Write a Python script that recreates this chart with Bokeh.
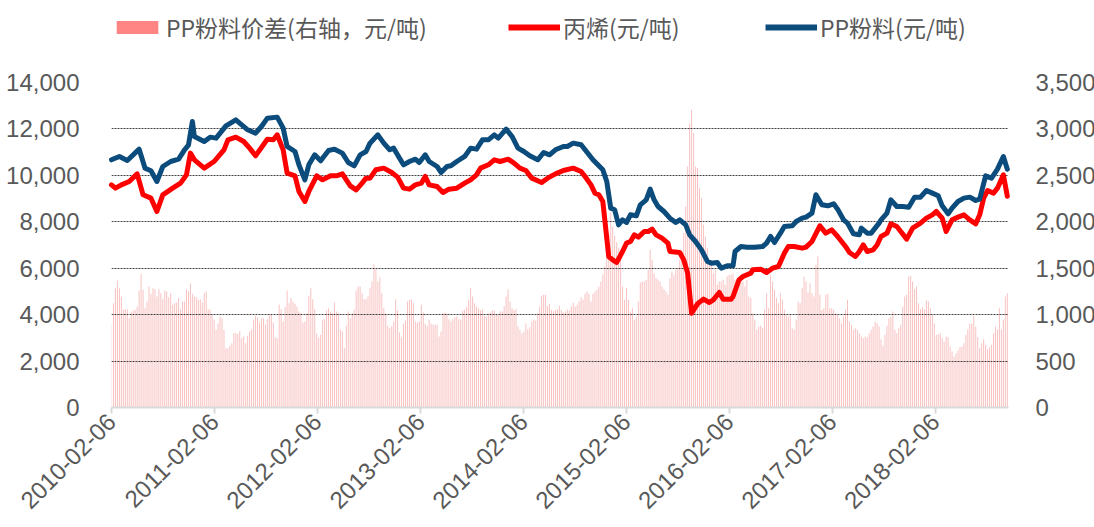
import math
import pandas as pd
from bokeh.plotting import figure
from bokeh.layouts import column
from bokeh.models import (Range1d, LinearAxis, FixedTicker, NumeralTickFormatter,
                          DatetimeTickFormatter, Legend, LegendItem, ColumnDataSource)
from bokeh.embed import file_html
from bokeh.resources import INLINE

# ---------------- data ----------------
start_date = "2010-02-06"
tick_labels = ["2010-02-06", "2011-02-06", "2012-02-06", "2013-02-06", "2014-02-06",
               "2015-02-06", "2016-02-06", "2017-02-06", "2018-02-06"]

series_names = ["PP粉料价差(右轴，元/吨)", "丙烯(元/吨)", "PP粉料(元/吨)"]

# weekly PP powder spread (right axis), one value per week from start_date
spread = [
    890, 1124, 1285, 1368, 1285, 1195, 1052, 1059, 1059, 962,
    1034, 1045, 1052, 1088, 1260, 1440, 1267, 1070, 1142, 1303,
    1224, 1285, 1274, 1195, 1274, 1231, 1167, 1260, 1249, 1188,
    1231, 1106, 1124, 1131, 1178, 1059, 1142, 1142, 1274, 1249,
    1339, 1224, 1195, 1188, 1160, 1167, 1131, 1231, 1249, 1059,
    1052, 998, 944, 836, 908, 980, 962, 836, 639, 639,
    664, 693, 800, 800,
    793, 818, 747, 765, 693, 772, 818, 844, 944, 987,
    973, 915, 962, 962, 890, 951, 998, 998, 915, 757,
    747, 1106, 1059, 926, 1081, 1260, 1124, 1178, 1142, 1116,
    1088, 1034, 1016, 915, 926, 1016, 1203, 1285, 1167, 1059,
    793, 757, 783, 944, 951, 1045, 1070, 1034, 1016, 1131,
    1034, 1016, 844, 818, 639, 880, 1034, 962, 1016, 1052,
    1260, 1303, 1303, 1231, 1167,
    1167, 1195, 1285, 1357, 1544, 1490, 1357, 1404, 1231, 1070,
    1016, 880, 854, 872, 926, 1167, 1045, 808, 757, 901,
    937, 1142, 1160, 1167, 1124, 926, 915, 926, 1106, 1023,
    901, 880, 944, 901, 890, 890, 890, 765, 818, 1016,
    1023, 1016, 951, 926, 951, 973, 980, 951, 944, 1045,
    1052, 1081, 1160, 1285, 1195, 1124, 1088, 1070, 1045, 1052,
    987, 980, 1016, 1023, 1045,
    1045, 998, 998, 1034, 1034, 1088, 1195, 1274, 1142, 1070,
    1045, 1059, 872, 836, 800, 818, 908, 844, 865, 926,
    944, 937, 1016, 1088, 1203, 1213, 1213, 1095, 1116, 1052,
    1034, 1052, 1059, 1095, 1052, 1023, 1034, 1059, 1045, 1088,
    1131, 1088, 1106, 1142, 1188, 1160, 1224, 1249, 1224, 1142,
    1224, 1249, 1267, 1303, 1357, 1429, 1519, 1691, 1878, 2100,
    1950, 1850, 1780, 1720, 1680,
    1303, 1160, 1285, 1160, 1034, 1070, 944, 980, 1142, 1346,
    1357, 1357, 1375, 1483, 1700, 1590, 1447, 1393, 1375, 1357,
    1303, 1274, 1249, 1213, 1393, 1465, 1429, 1483, 1501, 1590,
    1626, 1878, 2165, 2596, 3062, 3206, 2955, 2596, 2578, 2362,
    2255, 1967, 1842, 1716, 1590, 1572, 1447, 1483, 1321, 1357,
    1357, 1375, 1321, 1411, 1429, 1429, 1447, 1375, 1321, 1375,
    1357, 1357, 1303, 1375, 1195,
    1178, 1016, 944, 836, 872, 880, 854, 1052, 1231, 1070,
    1429, 1357, 1267, 1178, 1124, 1231, 1160, 1052, 998, 980,
    998, 854, 836, 944, 1142, 1124, 1285, 1411, 1357, 1238,
    1339, 1231, 1195, 1537, 1626, 1213, 1052, 1070, 1213, 1224,
    1070, 1070, 1052, 1016, 998, 962, 908, 980, 1052, 1160,
    926, 890, 836, 854, 836, 800, 765, 747, 765, 757,
    800, 836, 872, 926, 908,
    872, 736, 664, 783, 880, 962, 980, 1034, 836, 800,
    854, 890, 1088, 1195, 1213, 1411, 1418, 1357, 1274, 1303,
    1124, 1059, 1081, 1052, 1152, 1142, 1070, 998, 908, 783,
    783, 800, 747, 711, 765, 757, 657, 603, 549, 585,
    614, 650, 657, 693, 783, 844, 901, 901, 987, 872,
    757, 639, 693, 736, 675, 628, 650, 675, 800, 872,
    836, 1070, 844, 944, 1195, 1231,
]

# PP powder price (left axis): week offset from start_date, price
pp_week = [0, 4, 8, 14, 17, 20, 23, 26, 30, 34, 37, 39, 41, 42, 47, 50, 53, 58, 63,
           66, 69, 73, 76, 79, 84, 87, 89, 93, 95, 98, 100, 103, 106, 110, 113, 117, 120,
           123, 126, 129, 131, 135, 138, 141, 143, 146, 148, 151, 154, 156, 159, 161, 165,
           167, 170, 172, 175, 179, 182, 185, 188, 191, 194, 196, 200, 203, 206, 209, 212,
           216, 219, 222, 225, 229, 231, 234, 238, 240, 244, 246, 249, 251, 253, 255, 257,
           259, 261, 263, 266, 268, 271, 273, 275, 277, 280, 283, 286, 288, 291, 293, 296,
           299, 302, 304, 307, 309, 312, 315, 316, 319, 322, 326, 330, 332, 334, 336, 339,
           341, 345, 347, 350, 352, 355, 357, 360, 363, 366, 368, 371, 373, 376, 379, 380,
           383, 385, 389, 390, 393, 395, 398, 401, 404, 407, 410, 413, 416, 419, 421, 424,
           426, 429, 432, 435, 438, 440, 443, 446, 449, 452, 454]
pp_price = [10670, 10813, 10640, 11129, 10310, 10196, 9736, 10382, 10597, 10698, 11100, 11300,
            12320, 11675, 11459, 11646, 11603, 12134, 12393,
            12177, 11962, 11818, 12105, 12464, 12508, 12034, 11244, 11028, 10454, 9808, 10454,
            10885, 10626, 11071, 11129, 10957, 10554, 10410, 10885, 11028,
            11387, 11746, 11387, 11100, 11172, 10741, 10454, 10597, 10698, 10554, 10885, 10597,
            10382, 10124, 10382, 10410, 10597, 10813, 11172, 11129, 11531, 11531, 11746,
            11603, 11991, 11675, 11172, 11028, 10842, 10670, 10985, 10885, 11100, 11244, 11244,
            11387, 11316, 11100, 10670, 10497, 10239, 9736, 8587, 8516, 7869, 8085,
            7970, 8300, 8257, 8731, 8946, 9406, 8946, 8659, 8444, 8157, 7970, 8085, 7869, 7438,
            7151, 6792, 6290, 6218, 6247, 6002, 6103, 6103, 6721, 6936, 6907,
            6907, 6936, 7080, 7367, 7108, 7510, 7797, 7826, 8013, 8157, 8200, 8372, 9162, 8731,
            8688, 8774, 8544, 8085, 7941, 7481, 7438, 7725, 7510, 7510, 7941,
            8085, 8372, 8946, 8659, 8659, 8630, 9061, 9061, 9348, 9234, 9119, 8688, 8343, 8587,
            8874, 9018, 9061, 8918, 8975, 9980, 9880, 10267, 10813, 10267]

# propylene price (left axis)
c3_week = [0, 2, 5, 9, 13, 16, 20, 23, 26, 31, 35, 38, 40, 42, 47, 52, 57, 59, 63,
           67, 70, 73, 77, 79, 82, 84, 87, 89, 93, 95, 98, 100, 104, 107, 111, 114, 117, 121,
           124, 127, 129, 131, 134, 138, 142, 145, 148, 151, 154, 157, 159, 161, 165, 168,
           171, 175, 179, 182, 185, 187, 191, 194, 197, 201, 204, 207, 210, 213, 218, 221,
           225, 229, 234, 238, 240, 243, 245, 247, 249, 250, 252, 254, 256, 259, 261, 263,
           265, 267, 270, 272, 274, 276, 279, 282, 283, 288, 290, 292, 294, 297, 300, 303,
           305, 308, 310, 314, 315, 318, 320, 324, 325, 329, 332, 335, 338, 341, 343, 346,
           350, 352, 355, 359, 362, 365, 368, 372, 374, 377, 379, 381, 383, 386, 388, 390,
           393, 395, 398, 400, 403, 406, 410, 413, 416, 418, 421, 423, 426, 429, 432, 435,
           438, 440, 442, 444, 447, 449, 452, 454]
c3_price = [9592, 9449, 9592, 9736, 10066, 9162, 9018, 8444, 9162, 9449, 9664, 10023, 10957,
            10670, 10310, 10597, 11100, 11531, 11646,
            11459, 11172, 10842, 11316, 11560, 11531, 11746, 11100, 10095, 9980, 9305, 8874,
            9305, 9980, 9808, 9980, 9980, 10066, 9549, 9377, 9664, 9880,
            9880, 10239, 10310, 10124, 9923, 9449, 9406, 9592, 9664, 9951, 9592, 9521, 9262,
            9406, 9449, 9664, 9808, 10023, 10310, 10454, 10670,
            10597, 10698, 10526, 10310, 10210, 9880, 9693, 9880, 10066, 10210, 10310, 10167,
            9951, 9592, 9233, 9162, 8874, 8085, 6505, 6361, 6247, 6721,
            7080, 7151, 7438, 7338, 7582, 7582, 7683, 7438, 7295, 7080, 6721, 6677, 6361, 5787,
            4064, 4466, 4667, 4523, 4638, 4954, 4667, 4667, 4782, 5500, 5643, 5787,
            5931, 5959, 5816, 6002, 6074, 6649, 6936, 6936, 6864, 6907, 7151, 7826, 7510, 7654,
            7367, 6936, 6677, 6505, 6721, 7008, 6721, 6792, 7000,
            7367, 7510, 7912, 7797, 7582, 7252, 7725, 7941, 8157, 8300, 8444, 8157, 7582, 8085,
            8200, 8300, 8085, 7912, 8300, 9018, 9348, 9234, 9449, 10023, 9100]

left_ticks = [0, 2000, 4000, 6000, 8000, 10000, 12000, 14000]
right_ticks = [0, 500, 1000, 1500, 2000, 2500, 3000, 3500]

# ---------------- build ----------------
t0 = pd.Timestamp(start_date)
week = pd.Timedelta(days=7)
spread_dates = [t0 + i * week for i in range(len(spread))]
pp_dates = [t0 + w * week for w in pp_week]
c3_dates = [t0 + w * week for w in c3_week]
tick_ms = [pd.Timestamp(s).value / 1e6 for s in tick_labels]
x_end = t0 + pd.Timedelta(days=454.6 * 7)

TICK_FONT = "Liberation Sans"
TICK_COLOR = "#595959"
BAR_COLOR = "#F8C2C2"
BAR_LEGEND = "#FF8585"
RED = "#FF0000"
BLUE = "#0B4C7C"
LEG_H = 50
bar_w = 3.6 * 86400000

bar_src = ColumnDataSource(dict(x=spread_dates, top=spread))
pp_src = ColumnDataSource(dict(x=pp_dates, y=pp_price))
c3_src = ColumnDataSource(dict(x=c3_dates, y=c3_price))

# ---- legend strip (its frame is aligned with the chart frame, left edge at x=111) ----
lf = figure(width=1086, height=LEG_H, output_backend="svg", toolbar_location=None,
            x_axis_location=None, y_axis_location=None,
            min_border_left=0, min_border_right=0, min_border_top=0, min_border_bottom=0)
lf.outline_line_color = None
lf.xgrid.visible = False
lf.ygrid.visible = False
lb = lf.vbar(x="x", top="top", width=bar_w, source=bar_src, fill_color=BAR_LEGEND,
             line_color=None, visible=False)
lr = lf.line(x="x", y="y", source=c3_src, line_color=RED, line_width=6, visible=False)
lp = lf.line(x="x", y="y", source=pp_src, line_color=BLUE, line_width=6, visible=False)

def add_legend(fig, label, renderer, vx, gh):
    lg = Legend(items=[LegendItem(label=label, renderers=[renderer])],
                location=(vx, 6), orientation="horizontal",
                glyph_width=52, glyph_height=gh, label_standoff=3,
                padding=0, margin=0, border_line_color=None, background_fill_alpha=0,
                label_text_font="Noto Sans CJK SC", label_text_font_size="23px",
                label_text_color=TICK_COLOR)
    fig.add_layout(lg, "center")

add_legend(lf, series_names[0], lb, 0, 16)
add_legend(lf, series_names[1], lr, 397, 28)
add_legend(lf, series_names[2], lp, 654, 28)

# ---- main chart ----
p = figure(frame_width=897, frame_height=325, output_backend="svg", toolbar_location=None,
           x_axis_type="datetime", x_range=Range1d(t0, x_end),
           y_range=Range1d(left_ticks[0], left_ticks[-1]),
           min_border_left=111, min_border_right=78, min_border_top=82 - LEG_H,
           min_border_bottom=100)
p.extra_y_ranges = {"right": Range1d(right_ticks[0], right_ticks[-1])}
p.outline_line_color = None

bars = p.vbar(x="x", top="top", width=bar_w, source=bar_src, y_range_name="right",
              fill_color=BAR_COLOR, line_color=None)
bars.level = "underlay"
c3_line = p.line(x="x", y="y", source=c3_src, line_color=RED, line_width=5,
                 line_join="round", line_cap="round")
pp_line = p.line(x="x", y="y", source=pp_src, line_color=BLUE, line_width=5,
                 line_join="round", line_cap="round")
c3_line.level = "overlay"
pp_line.level = "overlay"

xa = p.xaxis[0]
xa.ticker = FixedTicker(ticks=tick_ms)
xa.formatter = DatetimeTickFormatter(days="%Y-%m-%d", months="%Y-%m-%d", years="%Y-%m-%d")
xa.major_label_orientation = math.pi / 4
xa.axis_line_color = "#D9D9D9"
xa.axis_line_width = 2
xa.major_tick_line_color = "#D9D9D9"
xa.major_tick_line_width = 2
xa.major_tick_out = 6
xa.major_tick_in = 0
xa.minor_tick_line_color = None
xa.major_label_text_font = TICK_FONT
xa.major_label_text_font_size = "24px"
xa.major_label_text_color = TICK_COLOR
xa.major_label_standoff = 4

ya = p.yaxis[0]
ya.ticker = FixedTicker(ticks=left_ticks)
ya.formatter = NumeralTickFormatter(format="0,0")
ya.axis_line_color = None
ya.major_tick_line_color = None
ya.minor_tick_line_color = None
ya.major_label_text_font = TICK_FONT
ya.major_label_text_font_size = "24px"
ya.major_label_text_color = TICK_COLOR
ya.major_label_standoff = 26

ra = LinearAxis(y_range_name="right", ticker=FixedTicker(ticks=right_ticks),
                formatter=NumeralTickFormatter(format="0,0"))
ra.axis_line_color = None
ra.major_tick_line_color = None
ra.minor_tick_line_color = None
ra.major_label_text_font = TICK_FONT
ra.major_label_text_font_size = "24px"
ra.major_label_text_color = TICK_COLOR
ra.major_label_standoff = 21
p.add_layout(ra, "right")

p.xgrid.visible = False
p.ygrid.ticker = FixedTicker(ticks=left_ticks[1:])
p.ygrid.grid_line_color = "#404040"
p.ygrid.grid_line_dash = "2 1"
p.ygrid.grid_line_width = 1
p.ygrid.level = "glyph"

layout = column(lf, p, spacing=0)
open("out.html", "w").write(file_html(layout, INLINE))
